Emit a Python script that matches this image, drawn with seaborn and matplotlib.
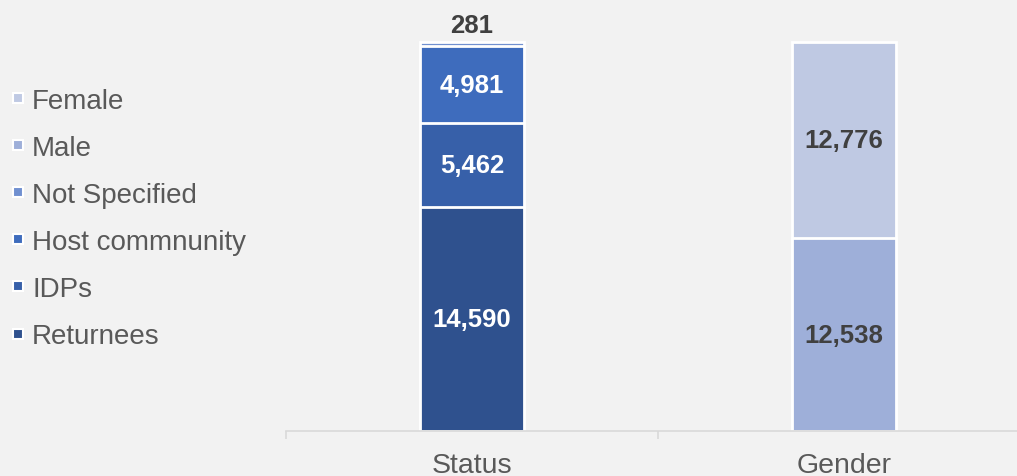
import pandas as pd
import matplotlib.pyplot as plt
import seaborn as sns
from matplotlib.lines import Line2D

# donnees
groupes = ["Status", "Gender"]
segments = ["Returnees", "IDPs", "Host commnunity", "Not Specified", "Male", "Female"]
groupe_segment = ["Status", "Status", "Status", "Status", "Gender", "Gender"]
valeurs = [14590, 5462, 4981, 281, 12538, 12776]
couleurs = ["#2f518e", "#3760a9", "#3e6cbd", "#7090d0", "#9eafd9", "#bfc9e3"]

data = pd.DataFrame({"groupe": groupe_segment, "segment": segments,
                     "valeur": valeurs, "couleur": couleurs})
data["haut"] = data.groupby("groupe")["valeur"].cumsum()
data["bas"] = data["haut"] - data["valeur"]

sns.set_theme(style="white")
plt.rcParams["font.family"] = ["Liberation Sans", "DejaVu Sans"]

fond = "#f2f2f2"
fig = plt.figure(figsize=(10.17, 4.77), dpi=100, facecolor=fond)
ax = fig.add_axes([286 / 1017, 45 / 477, 731 / 1017, 432 / 477])
ax.set_facecolor(fond)

# barres empilees : on dessine les cumuls du plus grand au plus petit
for _, ligne in data.sort_values("haut", ascending=False).iterrows():
    sns.barplot(x=[ligne["groupe"]], y=[ligne["haut"]], order=groupes,
                color=ligne["couleur"], saturation=1, width=0.28,
                edgecolor="white", linewidth=2, ax=ax)

# etiquettes des valeurs
for _, ligne in data.iterrows():
    x = groupes.index(ligne["groupe"])
    texte = f"{ligne['valeur']:,}"
    if ligne["valeur"] < 1000:
        ax.text(x, ligne["haut"] + 330, texte, ha="center", va="bottom",
                fontsize=18.5, fontweight="bold", color="#404040")
    else:
        coul = "white" if ligne["groupe"] == "Status" else "#404040"
        ax.text(x, (ligne["bas"] + ligne["haut"]) / 2, texte, ha="center",
                va="center", fontsize=18.5, fontweight="bold", color=coul)

ax.set_yticks([])
ax.set_xlabel("")
ax.set_ylabel("")
ax.set_xticks([0, 1])
ax.set_xticklabels(groupes)
ax.set_xticks([-0.5, 0.5, 1.5], minor=True)
ax.set_xlim(-0.5, 1.465)
ax.set_ylim(0, 28110)
ax.tick_params(axis="x", which="major", length=0, pad=15, labelsize=20.5,
               labelcolor="#595959")
ax.tick_params(axis="x", which="minor", length=6, width=1.2, color="#d9d9d9",
               direction="out", bottom=True)
sns.despine(ax=ax, left=True)
ax.spines["bottom"].set_color("#d9d9d9")
ax.spines["bottom"].set_linewidth(1.2)

# legende a gauche
poignees = [Line2D([], [], marker="s", linestyle="", markersize=7.5,
                   markerfacecolor=c, markeredgecolor="white", markeredgewidth=1.5)
            for c in couleurs[::-1]]
fig.legend(poignees, segments[::-1], loc="center left",
           bbox_to_anchor=(0.011, 1 - 219.5 / 477), frameon=False, fontsize=20,
           handlelength=0.5, handletextpad=0.25, labelspacing=0.76, borderpad=0,
           borderaxespad=0, labelcolor="#595959")

fig.savefig("out.png", dpi=100, facecolor=fond)
